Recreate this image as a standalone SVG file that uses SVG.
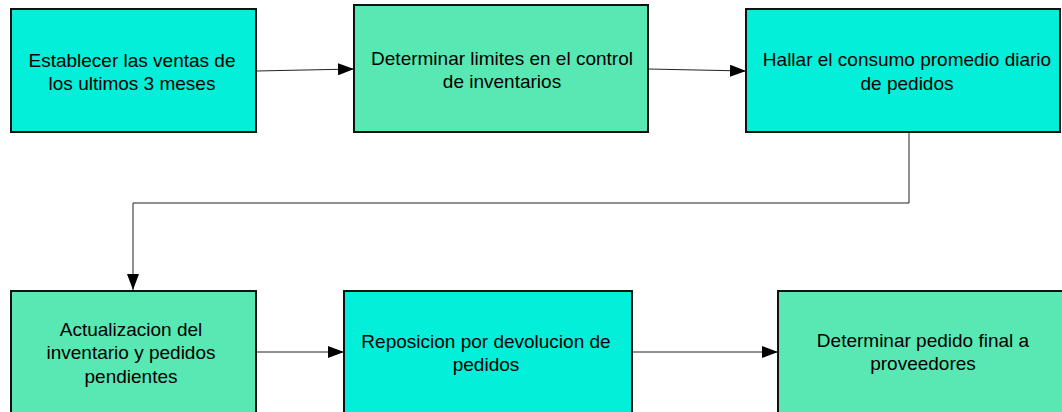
<svg xmlns="http://www.w3.org/2000/svg" width="1062" height="412" viewBox="0 0 1062 412">
<defs>
<marker id="arr" viewBox="0 0 16 12" refX="16" refY="6" markerWidth="16" markerHeight="12" markerUnits="userSpaceOnUse" orient="auto">
<path d="M0,0 L16,6 L0,12 Z" fill="#000"/>
</marker>
<style>
.box{stroke:#111;stroke-width:2}
.cyan{fill:#03EFD9}
.green{fill:#58E8B4}
.lbl{font-family:"Liberation Sans",Arial,sans-serif;font-size:19px;fill:#000;text-anchor:middle}
.edge{fill:none;stroke:#222;stroke-width:1}
</style>
</defs>
<rect width="1062" height="412" fill="#fff"/>
<g id="connectors">
<path class="edge" d="M256,71 L354,69" marker-end="url(#arr)"/>
<path class="edge" d="M648,69 L746,71" marker-end="url(#arr)"/>
<path class="edge" d="M909,132 L909,203 L133,203 L133,290" marker-end="url(#arr)"/>
<path class="edge" d="M256,352 L344,352" marker-end="url(#arr)"/>
<path class="edge" d="M632,352 L778,352" marker-end="url(#arr)"/>
</g>
<g id="n1">
<rect class="box cyan" x="11" y="9" width="245" height="123"/>
<text class="lbl" x="132" y="67">Establecer las ventas de</text>
<text class="lbl" x="132" y="90">los ultimos 3 meses</text>
</g>
<g id="n2">
<rect class="box green" x="354" y="5" width="294" height="127"/>
<text class="lbl" x="502" y="65">Determinar limites en el control</text>
<text class="lbl" x="502" y="88">de inventarios</text>
</g>
<g id="n3">
<rect class="box cyan" x="746" y="9" width="314" height="123"/>
<text class="lbl" x="907" y="66">Hallar el consumo promedio diario</text>
<text class="lbl" x="907" y="90">de pedidos</text>
</g>
<g id="n4">
<rect class="box green" x="11" y="291" width="245" height="125"/>
<text class="lbl" x="131" y="336">Actualizacion del</text>
<text class="lbl" x="131" y="359">inventario y pedidos</text>
<text class="lbl" x="131" y="383">pendientes</text>
</g>
<g id="n5">
<rect class="box cyan" x="344" y="291" width="288" height="125"/>
<text class="lbl" x="486" y="348">Reposicion por devolucion de</text>
<text class="lbl" x="486" y="371">pedidos</text>
</g>
<g id="n6">
<rect class="box green" x="778" y="291" width="290" height="125"/>
<text class="lbl" x="923" y="347">Determinar pedido final a</text>
<text class="lbl" x="923" y="370">proveedores</text>
</g>
</svg>
